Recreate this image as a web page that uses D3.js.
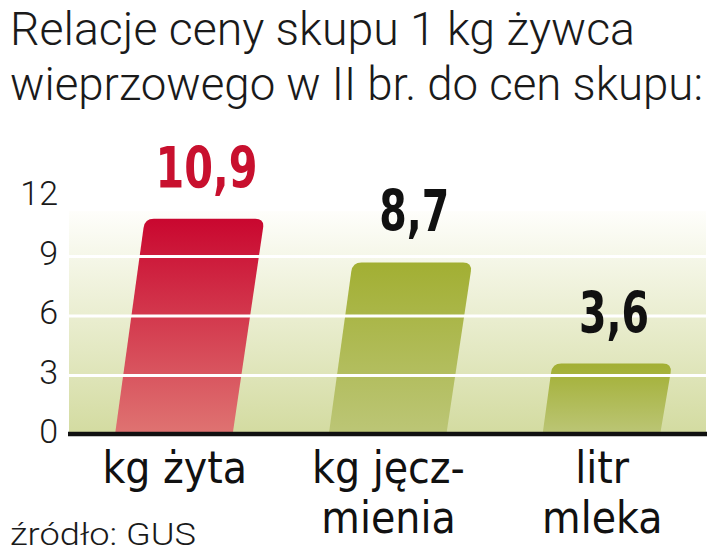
<!DOCTYPE html>
<html>
<head>
<meta charset="utf-8">
<script src="https://cdn.jsdelivr.net/npm/d3@7"></script>
<style>
  html, body { margin: 0; padding: 0; background: #ffffff; }
  svg { display: block; }
</style>
</head>
<body>
<svg id="chart" width="720" height="559"></svg>
<script>
// ---- data ----
const titleLines = ["Relacje ceny skupu 1 kg żywca", "wieprzowego w II br. do cen skupu:"];
const categories = ["kg żyta", "kg jęcz-\nmienia", "litr\nmleka"];
const values = [10.9, 8.7, 3.6];
const valueLabels = ["10,9", "8,7", "3,6"];
const tickValues = [0, 3, 6, 9, 12];
const sourceText = "źródło: GUS";

// ---- layout ----
const W = 720, H = 559;
const plot = { left: 69, right: 706, top: 211, baseline: 435 };
const svg = d3.select("#chart");

const x = d3.scaleBand().domain(categories)
  .range([plot.left, plot.right]).paddingInner(0.45).paddingOuter(0.215);
const y = d3.scaleLinear().domain([0, 12]).range([plot.baseline, 197]);

const defs = svg.append("defs");
const bg = defs.append("linearGradient").attr("id", "bgGrad").attr("x1", 0).attr("y1", 0).attr("x2", 0).attr("y2", 1);
bg.append("stop").attr("offset", "0%").attr("stop-color", "#fefefb");
bg.append("stop").attr("offset", "100%").attr("stop-color", "#d3dba0");

const red = defs.append("linearGradient").attr("id", "redGrad").attr("x1", 0).attr("y1", 0).attr("x2", 0).attr("y2", 1);
red.append("stop").attr("offset", "0%").attr("stop-color", "#c9072f");
red.append("stop").attr("offset", "100%").attr("stop-color", "#df7472");

const green = defs.append("linearGradient").attr("id", "greenGrad").attr("x1", 0).attr("y1", 0).attr("x2", 0).attr("y2", 1);
green.append("stop").attr("offset", "0%").attr("stop-color", "#a2af33");
green.append("stop").attr("offset", "100%").attr("stop-color", "#bcc677");

const fills = ["url(#redGrad)", "url(#greenGrad)", "url(#greenGrad)"];
const labelColors = ["#c8102e", "#111111", "#111111"];

// ---- title ----
const titleWidths = [625, 693];
svg.append("g").selectAll("text").data(titleLines).join("text")
  .attr("x", 10)
  .attr("y", (d, i) => 45 + i * 55)
  .attr("font-family", "Roboto, 'Open Sans', sans-serif")
  .attr("font-weight", 300)
  .attr("font-size", 46)
  .attr("fill", "#1a1a1a")
  .attr("textLength", (d, i) => titleWidths[i])
  .attr("lengthAdjust", "spacingAndGlyphs")
  .text(d => d);

// ---- background ----
svg.append("rect")
  .attr("x", plot.left).attr("y", plot.top)
  .attr("width", plot.right - plot.left).attr("height", plot.baseline - plot.top)
  .attr("fill", "url(#bgGrad)");

// ---- bars (slanted, rounded top corners) ----
const skew = 0.138;
const r = 9;
function barPath(i) {
  const v = values[i];
  const x0 = x(categories[i]), x1 = x0 + x.bandwidth();
  const yb = y(0), yt = y(v);
  const s = skew * (yb - yt);
  const dx = skew * r;
  const p = d3.path();
  p.moveTo(x0, yb);
  p.lineTo(x0 + s - dx, yt + r);
  p.quadraticCurveTo(x0 + s, yt, x0 + s + r, yt);
  p.lineTo(x1 + s + 2 - r, yt);
  p.quadraticCurveTo(x1 + s + 2, yt, x1 + s + 2 - dx, yt + r);
  p.lineTo(x1, yb);
  p.closePath();
  return p.toString();
}
svg.append("g").selectAll("path").data(values).join("path")
  .attr("d", (d, i) => barPath(i))
  .attr("fill", (d, i) => fills[i]);

// ---- gridlines (over bars) ----
svg.append("g").selectAll("line").data(tickValues.filter(t => t > 0 && t < 12)).join("line")
  .attr("x1", plot.left).attr("x2", plot.right)
  .attr("y1", d => y(d)).attr("y2", d => y(d))
  .attr("stroke", "#ffffff").attr("stroke-width", 3);

// ---- baseline axis ----
svg.append("line")
  .attr("x1", 68).attr("x2", 707)
  .attr("y1", y(0) - 1).attr("y2", y(0) - 1)
  .attr("stroke", "#111111").attr("stroke-width", 4.5);

// ---- y axis ticks ----
const yAxis = d3.axisLeft(y).tickValues(tickValues).tickSize(0).tickPadding(0);
const gy = svg.append("g").attr("transform", "translate(58,0)").call(yAxis);
gy.select(".domain").remove();
gy.selectAll("text")
  .attr("font-family", "Roboto, 'Open Sans', sans-serif")
  .attr("font-weight", 300)
  .attr("font-size", 34)
  .attr("fill", "#1a1a1a")
  .attr("dy", "0.34em")
  .attr("transform", "translate(0,-4)");

// ---- value labels ----
const valueWidths = [102, 70, 70];
svg.append("g").selectAll("text").data(values).join("text")
  .attr("x", (d, i) => x(categories[i]) + x.bandwidth() / 2 + skew * (y(0) - y(d)) + 3)
  .attr("y", d => y(d) - 31)
  .attr("text-anchor", "middle")
  .attr("font-family", "'Liberation Sans Narrow', 'DejaVu Sans Condensed', sans-serif")
  .attr("font-weight", 700)
  .attr("font-size", 57)
  .attr("fill", (d, i) => labelColors[i])
  .attr("textLength", (d, i) => valueWidths[i])
  .attr("lengthAdjust", "spacingAndGlyphs")
  .text((d, i) => valueLabels[i]);

// ---- category labels (one text element per line) ----
const catLines = [];
categories.forEach((c, i) => {
  c.split("\n").forEach((ln, j) => catLines.push({ c, ln, j }));
});
svg.append("g").selectAll("text").data(catLines).join("text")
  .attr("x", d => x(d.c) + x.bandwidth() / 2 + 1)
  .attr("y", d => 483 + d.j * 50)
  .attr("text-anchor", "middle")
  .attr("font-family", "'Liberation Sans Narrow', 'DejaVu Sans Condensed', sans-serif")
  .attr("font-size", 44)
  .attr("fill", "#111111")
  .text(d => d.ln);

// ---- source ----
svg.append("text")
  .attr("x", 10).attr("y", 545)
  .attr("font-family", "Roboto, 'Open Sans', sans-serif")
  .attr("font-weight", 300)
  .attr("font-size", 32)
  .attr("fill", "#1a1a1a")
  .attr("textLength", 186)
  .attr("lengthAdjust", "spacingAndGlyphs")
  .text(sourceText);
</script>
</body>
</html>
